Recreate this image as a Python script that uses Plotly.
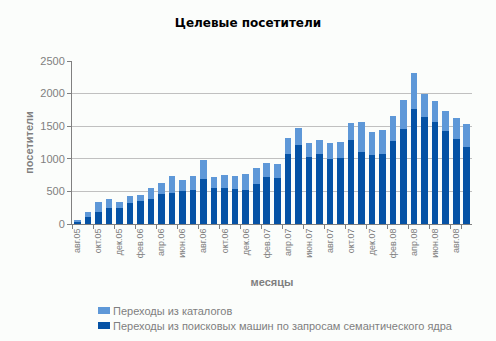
import plotly.graph_objects as go

# Monthly target visitors, Aug 2005 - Sep 2008
months = [
    "авг.05", "сен.05", "окт.05", "ноя.05", "дек.05",
    "янв.06", "фев.06", "мар.06", "апр.06", "май.06", "июн.06", "июл.06",
    "авг.06", "сен.06", "окт.06", "ноя.06", "дек.06",
    "янв.07", "фев.07", "мар.07", "апр.07", "май.07", "июн.07", "июл.07",
    "авг.07", "сен.07", "окт.07", "ноя.07", "дек.07",
    "янв.08", "фев.08", "мар.08", "апр.08", "май.08", "июн.08", "июл.08",
    "авг.08", "сен.08",
]

# Visits from search engines (semantic core queries)
search_visits = [
    35, 112, 186, 246, 246, 322, 353, 384, 460, 475, 505, 520,
    688, 550, 550, 535, 520, 611, 718, 704, 1072, 1210, 1027, 1073,
    997, 1012, 1287, 1104, 1058, 1073, 1272, 1455, 1761, 1638, 1562, 1424,
    1302, 1180,
]

# Visits from catalogues
catalog_visits = [
    27, 73, 152, 138, 92, 107, 91, 167, 167, 258, 168, 213,
    289, 168, 198, 198, 244, 244, 213, 214, 245, 260, 214, 214,
    243, 244, 259, 458, 351, 366, 381, 443, 550, 352, 321, 306,
    321, 351,
]

# Every second month gets a label
tick_labels = months[::2]

SEARCH_NAME = "Переходы из поисковых машин по запросам семантического ядра"
CATALOG_NAME = "Переходы из каталогов"

DARK = "#0552A5"
LIGHT = "#5E98D8"
GRAY_TEXT = "#7F7F7F"
AXIS_GRAY = "#808080"
BG = "#FBFDFB"
FONT = "Liberation Sans"

W, H = 496, 341

fig = go.Figure()
fig.add_trace(go.Bar(x=months, y=search_visits, marker_color=DARK,
                     marker_line_width=0, name=SEARCH_NAME))
fig.add_trace(go.Bar(x=months, y=catalog_visits, marker_color=LIGHT,
                     marker_line_width=0, name=CATALOG_NAME))

fig.update_layout(
    width=W, height=H,
    margin=dict(l=72, r=24, t=61, b=117, autoexpand=False),
    barmode="stack", bargap=0.375,
    paper_bgcolor=BG, plot_bgcolor=BG,
    font=dict(family=FONT, size=11, color=GRAY_TEXT),
    title=dict(
        text="<b>Целевые посетители</b>",
        font=dict(family="DejaVu Sans", size=12, color="#000000"),
        x=0.5, xanchor="center", y=1 - 23 / H, yanchor="middle",
    ),
    showlegend=False,
)

# Legend drawn as swatches + labels below the chart
legend_rows = [(CATALOG_NAME, LIGHT, 310.5), (SEARCH_NAME, DARK, 325.5)]
for label, color, yc in legend_rows:
    fig.add_shape(type="rect", xref="paper", yref="paper",
                  x0=(98 - 72) / 400, x1=(110 - 72) / 400,
                  y0=(H - yc - 117 - 3.5) / 163, y1=(H - yc - 117 + 3.5) / 163,
                  fillcolor=color, line_width=0)
    fig.add_annotation(text=label, xref="paper", yref="paper",
                       x=(111 - 72) / 400, xanchor="left",
                       y=(H - yc - 117) / 163, yanchor="middle",
                       showarrow=False,
                       font=dict(family=FONT, size=11, color=GRAY_TEXT))

fig.update_xaxes(
    type="category", automargin=False,
    tickmode="array", tickvals=tick_labels, ticktext=tick_labels,
    tickson="boundaries", tickangle=-90,
    ticks="outside", ticklen=4, tickcolor=AXIS_GRAY,
    tickfont=dict(family=FONT, size=9, color=GRAY_TEXT),
    showline=True, linecolor=AXIS_GRAY, linewidth=1,
    showgrid=False,
    title=dict(text="<b>месяцы</b>",
               font=dict(family=FONT, size=11, color=GRAY_TEXT), standoff=20),
)
fig.update_yaxes(
    range=[0, 2500], tickvals=[0, 500, 1000, 1500, 2000, 2500],
    automargin=False,
    ticks="outside", ticklen=4, tickcolor=AXIS_GRAY,
    tickfont=dict(family=FONT, size=11, color=GRAY_TEXT),
    showline=True, linecolor=AXIS_GRAY, linewidth=1,
    showgrid=True, gridcolor="#C0C0C0", gridwidth=1,
    zeroline=False,
    title=dict(text="<b>посетители</b>",
               font=dict(family=FONT, size=11, color=GRAY_TEXT), standoff=4),
)

fig.write_html("out.html")
